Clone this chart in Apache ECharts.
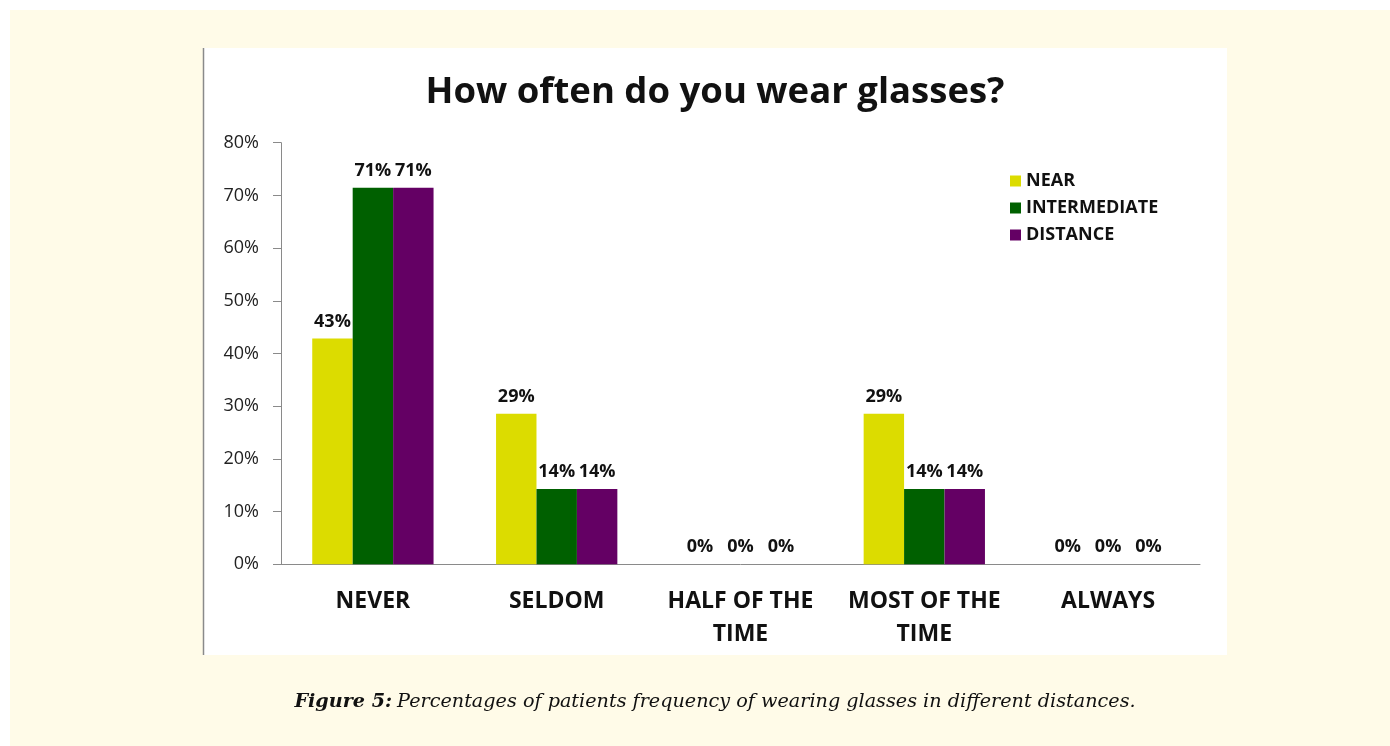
<!DOCTYPE html>
<html><head><meta charset="utf-8">
<script src="https://cdn.jsdelivr.net/npm/echarts@6/dist/echarts.min.js"></script>
<style>
html,body{margin:0;padding:0;background:#ffffff;}
#c{width:1390px;height:746px;}
</style></head><body>
<div id="c"></div>
<script>
const categories = ['NEVER', 'SELDOM', 'HALF OF THE\nTIME', 'MOST OF THE\nTIME', 'ALWAYS'];
const nearValues = [42.86, 28.57, 0, 28.57, 0];
const intermediateValues = [71.43, 14.29, 0, 14.29, 0];
const distanceValues = [71.43, 14.29, 0, 14.29, 0];
const seriesNames = ['NEAR', 'INTERMEDIATE', 'DISTANCE'];
const colors = ['#dcdc00', '#006000', '#640064'];

const chart = echarts.init(document.getElementById('c'), null, {renderer: 'canvas'});
const font = '"Open Sans", Lato, sans-serif';
const serif = '"DejaVu Serif", "Liberation Serif", serif';
const labelCfg = {
  show: true, position: 'top', distance: 8,
  formatter: p => Math.round(p.value) + '%',
  fontFamily: font, fontWeight: 'bold', fontSize: 18, color: '#111'
};
const mk = (name, data, i) => ({
  name, type: 'bar', data, itemStyle: {color: colors[i]},
  barGap: '0%', barCategoryGap: '34%', label: labelCfg
});
chart.setOption({
  animation: false,
  graphic: [
    {type: 'rect', shape: {x: 10, y: 10, width: 1380, height: 736}, style: {fill: '#fffbe8'}, z: -10},
    {type: 'rect', shape: {x: 203, y: 48, width: 1024, height: 607}, style: {fill: '#ffffff'}, z: -9},
    {type: 'line', shape: {x1: 203.5, y1: 48, x2: 203.5, y2: 655}, style: {stroke: '#8a8a8a', lineWidth: 1.5}, z: -8}
  ],
  title: [
    {text: 'How often do you wear glasses?', left: 710, top: 69, textAlign: 'center',
     textStyle: {fontFamily: font, fontWeight: 'bold', fontSize: 36.5, color: '#111'}},
    {text: '{b|Figure 5:} {i|Percentages of patients frequency of wearing glasses in different distances.}',
     left: 710, top: 688, textAlign: 'center',
     textStyle: {fontWeight: 'normal', rich: {
       b: {fontFamily: serif, fontStyle: 'italic', fontWeight: 'bold', fontSize: 19.2, color: '#111'},
       i: {fontFamily: serif, fontStyle: 'italic', fontWeight: 'normal', fontSize: 19.2, color: '#111'}
     }}}
  ],
  legend: {
    orient: 'vertical', left: 1005, top: 167, itemGap: 9, itemWidth: 11, itemHeight: 11,
    icon: 'rect',
    textStyle: {fontFamily: font, fontWeight: 'bold', fontSize: 18, color: '#111'},
    data: seriesNames
  },
  grid: {left: 281, right: 190, top: 142.7, bottom: 181.7, containLabel: false},
  xAxis: {
    type: 'category', data: categories,
    axisLine: {lineStyle: {color: '#8a8a8a', width: 1}},
    axisTick: {show: false},
    axisLabel: {fontFamily: font, fontWeight: 'bold', fontSize: 23, color: '#111', margin: 21, lineHeight: 33, interval: 0}
  },
  yAxis: {
    type: 'value', min: 0, max: 80, interval: 10,
    axisLine: {show: true, lineStyle: {color: '#8a8a8a'}},
    axisTick: {show: true, length: 8, lineStyle: {color: '#8a8a8a'}},
    splitLine: {show: false},
    axisLabel: {formatter: '{value}%', fontFamily: font, fontSize: 18, color: '#222', margin: 22}
  },
  series: [
    mk(seriesNames[0], nearValues, 0),
    mk(seriesNames[1], intermediateValues, 1),
    mk(seriesNames[2], distanceValues, 2)
  ]
});
</script>
</body></html>
